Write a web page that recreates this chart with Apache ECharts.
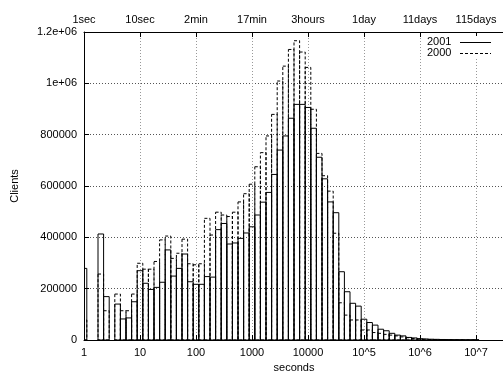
<!DOCTYPE html>
<html>
<head>
<meta charset="utf-8">
<script src="https://cdn.jsdelivr.net/npm/echarts@6/dist/echarts.min.js"></script>
<style>
html,body{margin:0;padding:0;background:#fff;}
#c{width:503px;height:372px;}
</style>
</head>
<body>
<div id="c"></div>
<script>
// bin index k: bin centre = 10^(k/10) seconds (10 bins per decade)
const binIndex = [0,1,2,3,4,5,6,7,8,9,10,11,12,13,14,15,16,17,18,19,20,21,22,23,24,25,26,27,28,29,30,31,32,33,34,35,36,37,38,39,40,41,42,43,44,45,46,47,48,49,50,51,52,53,54,55,56,57,58,59,60,61,62,63,64,65,66,67,68,69,70];
// Clients (thousands)
const clients2001 = [279,0,0,413,169,0,140,82,86,149,270,221,197,205,225,351,249,279,335,227,217,217,247,245,430,454,374,378,396,417,441,487,537,575,645,740,795,864,918,918,906,825,712,628,538,496,266,188,143,132,81,68,58,42,36,26,19,16,10,8,5,4,3,2.5,2,1.5,1,0.8,0.6,0.4,0.3];
const clients2000 = [78,0,0,257,114,0,179,114,114,179,299,276,276,306,390,405,318,338,393,297,293,297,474,409,498,487,481,498,538,570,607,675,730,795,879,1009,1067,1132,1166,1122,1062,899,727,640,580,416,145,97,78,78,39,39,29,26,22,19,16,12,9,6,4,3,2,1.5,1.2,1,0.7,0.5,0.4,0.3,0.2];
const seriesNames = ['2001','2000'];
const bottomTickLabels = ['1','10','100','1000','10000','10^5','10^6','10^7'];
const topTickLabels = ['1sec','10sec','2min','17min','3hours','1day','11days','115days'];
const yTickLabels = ['0','200000','400000','600000','800000','1e+06','1.2e+06'];

const FONT = 'Liberation Sans';
const chart = echarts.init(document.getElementById('c'), null, {renderer:'canvas'});

function toData(vals){
  return binIndex.map((k,i)=>[k/10, vals[i]*1000]);
}
function makeRender(dash){
  return function(params, api){
    const v = api.value(1);
    if (!v) return null;
    const c = api.value(0);
    const p0 = api.coord([c-0.05, 0]);
    const p1 = api.coord([c+0.05, v]);
    return {
      type:'rect',
      shape:{x:p0[0], y:p1[1], width:p1[0]-p0[0], height:p0[1]-p1[1]},
      style:{fill:'none', stroke:'#000', lineWidth:1, lineDash:dash}
    };
  };
}
function labelFmt(arr){
  return function(v){
    const r = Math.round(v);
    if (Math.abs(v-r) > 1e-6) return '';
    return arr[r] !== undefined ? arr[r] : '';
  };
}

const option = {
  animation:false,
  backgroundColor:'#fff',
  textStyle:{fontFamily:FONT},
  grid:{left:84, top:32, width:420, height:308, containLabel:false, outerBoundsMode:'none'},
  xAxis:[{
    type:'value', min:0, max:7.5, interval:1, position:'bottom',
    name:'seconds', nameLocation:'middle', nameGap:17,
    nameTextStyle:{color:'#000', fontSize:11, fontFamily:FONT},
    axisLine:{show:true, lineStyle:{color:'#000', width:1}},
    axisTick:{show:true, inside:true, length:5, lineStyle:{color:'#000'}},
    axisLabel:{color:'#000', fontSize:11, fontFamily:FONT, margin:7, formatter:labelFmt(bottomTickLabels), showMaxLabel:false},
    splitLine:{show:true, lineStyle:{color:'#999', type:[1,2], width:1}}
  },{
    type:'value', min:0, max:7.5, interval:1, position:'top',
    axisLine:{show:true, lineStyle:{color:'#000', width:1}},
    axisTick:{show:true, inside:true, length:5, lineStyle:{color:'#000'}},
    axisLabel:{color:'#000', fontSize:11, fontFamily:FONT, margin:7, formatter:labelFmt(topTickLabels), showMaxLabel:false},
    splitLine:{show:false}
  }],
  yAxis:[{
    type:'value', min:0, max:1200000, interval:200000,
    name:'Clients', nameLocation:'middle', nameGap:64, nameRotate:90,
    nameTextStyle:{color:'#000', fontSize:11, fontFamily:FONT},
    axisLine:{show:true, lineStyle:{color:'#000', width:1}},
    axisTick:{show:true, inside:true, length:5, lineStyle:{color:'#000'}},
    axisLabel:{color:'#000', fontSize:11, fontFamily:FONT, margin:7, formatter:function(v){return yTickLabels[Math.round(v/200000)];}},
    splitLine:{show:true, lineStyle:{color:'#555', type:[1,2], width:1}}
  }],
  series:[{
    name:seriesNames[0], type:'custom', clip:true, xAxisIndex:0, yAxisIndex:0,
    renderItem:makeRender(null), data:toData(clients2001), z:3
  },{
    name:seriesNames[1], type:'custom', clip:true, xAxisIndex:0, yAxisIndex:0,
    renderItem:makeRender([3,2]), data:toData(clients2000), z:4
  }],
  graphic:[
    {type:'rect', z:10, shape:{x:424, y:36, width:79, height:22}, style:{fill:'#fff'}},
    {type:'text', z:11, x:427, y:42, style:{text:seriesNames[0], fill:'#000', font:'11px '+FONT, verticalAlign:'middle'}},
    {type:'line', z:11, shape:{x1:460, y1:42.5, x2:491, y2:42.5}, style:{stroke:'#000', lineWidth:1}},
    {type:'text', z:11, x:427, y:53, style:{text:seriesNames[1], fill:'#000', font:'11px '+FONT, verticalAlign:'middle'}},
    {type:'line', z:11, shape:{x1:460, y1:53.5, x2:491, y2:53.5}, style:{stroke:'#000', lineWidth:1, lineDash:[3,2]}}
  ]
};
chart.setOption(option);
</script>
</body>
</html>
